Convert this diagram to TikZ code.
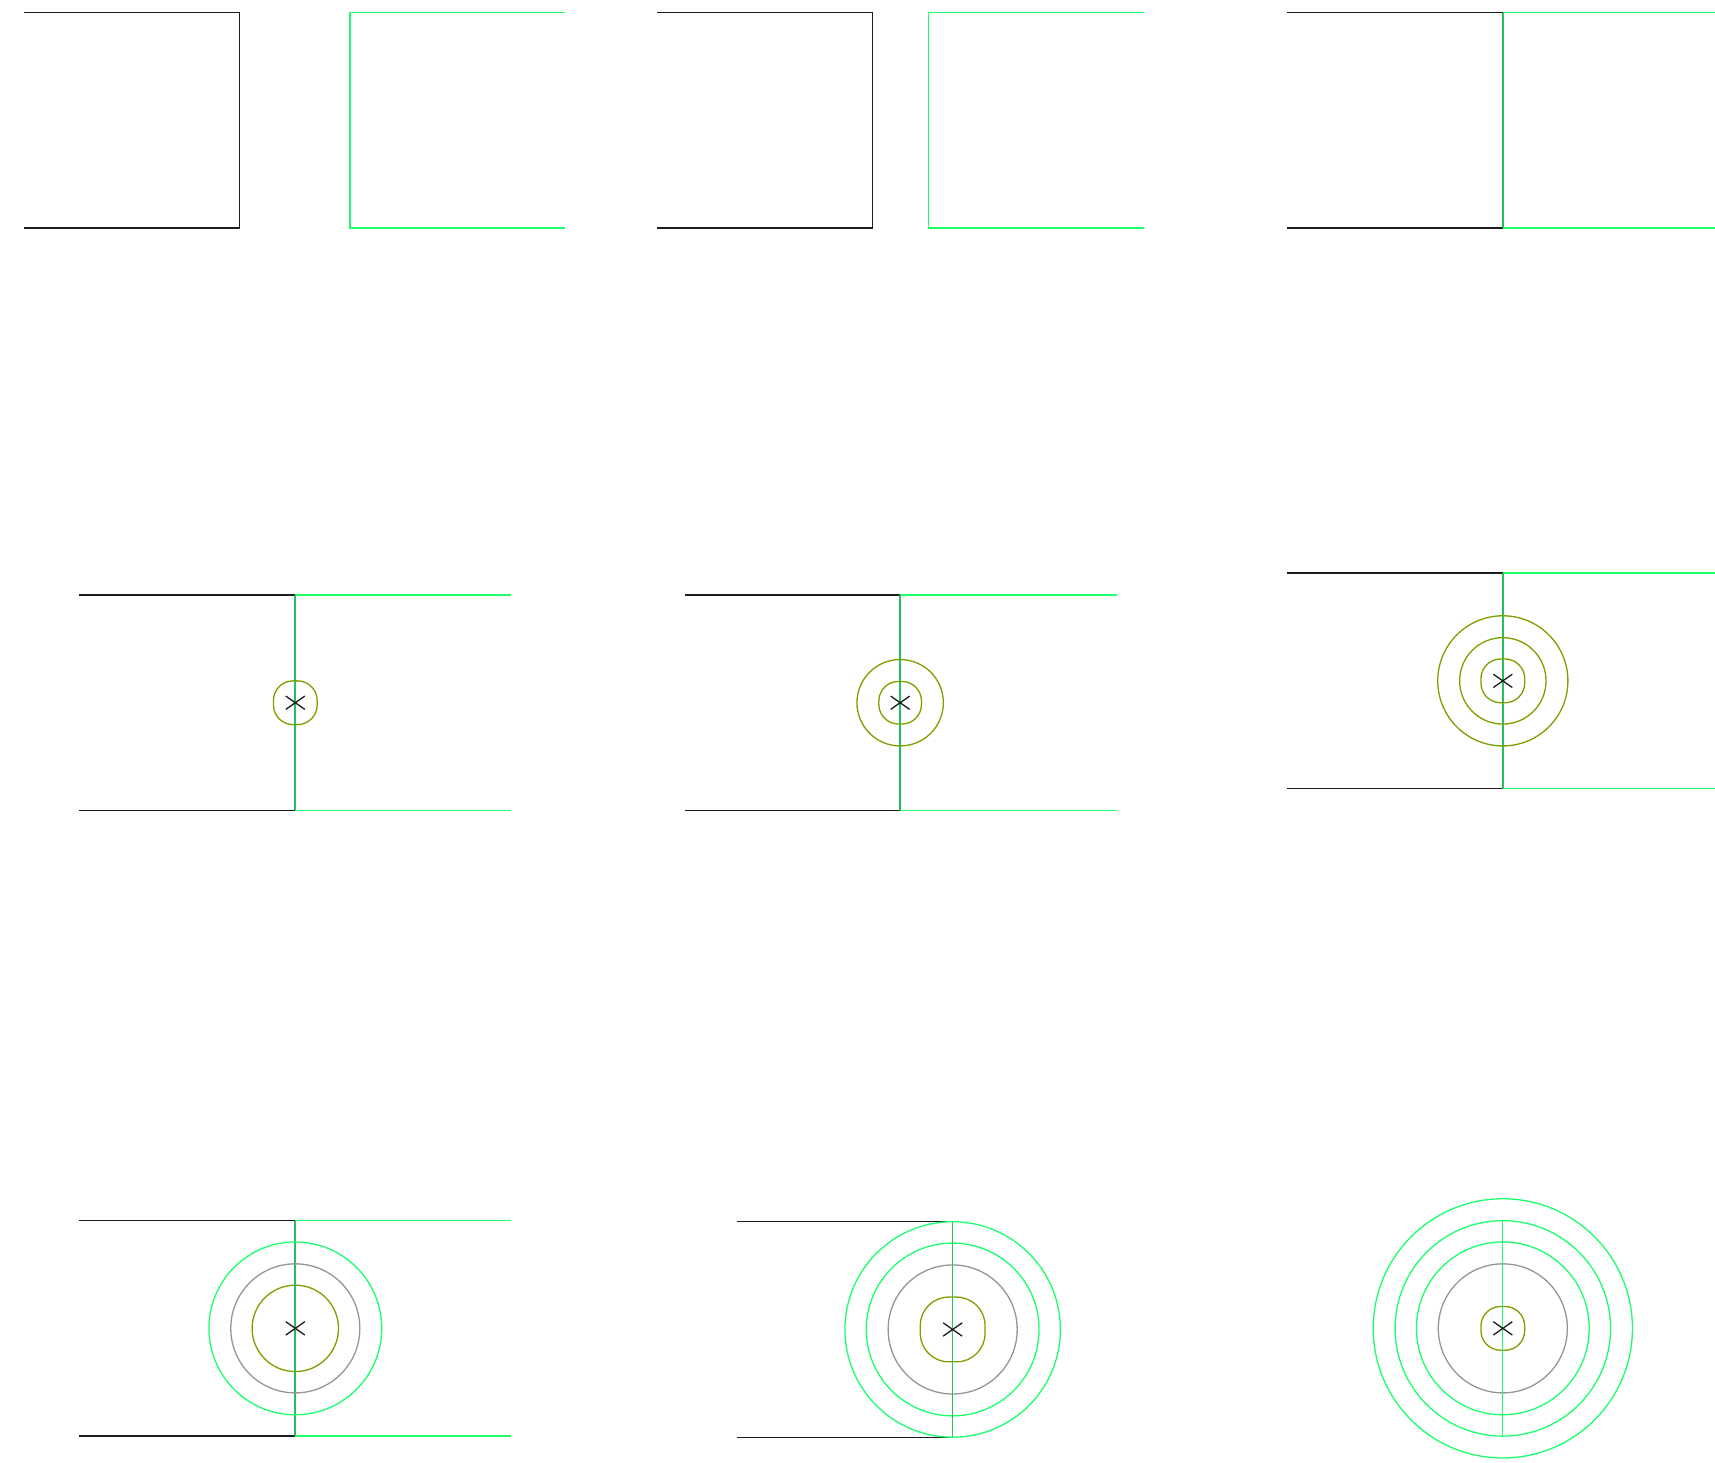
\documentclass[tikz,border=0pt]{standalone}
\definecolor{blk}{RGB}{30,30,30}
\definecolor{grn}{RGB}{30,255,110}
\definecolor{dgrn}{RGB}{40,190,95}
\definecolor{olv}{RGB}{125,160,0}
\definecolor{gry}{RGB}{150,150,150}
\tikzset{
  blkline/.style={draw=blk,line width=0.6pt},
  grnline/.style={draw=grn,line width=0.6pt},
  joinline/.style={draw=dgrn,line width=0.75pt},
  olvline/.style={draw=olv,line width=0.6pt},
  gryline/.style={draw=gry,line width=0.6pt},
}
% cross mark
\newcommand{\xmk}[2]{\draw[blkline] (#1-8.7,#2-6.1) -- (#1+8.7,#2+6.1) (#1-8.7,#2+6.1) -- (#1+8.7,#2-6.1);}
% squircle: centre x, centre y, half size, corner radius
\newcommand{\sqrc}[4]{\draw[olvline,rounded corners=#4] (#1-#3,#2-#3) rectangle (#1+#3,#2+#3);}
% joined pair: left end, joint x, right end, top y, bottom y
\newcommand{\joined}[5]{
  \draw[blkline] (#1,#4) -- (#2,#4) (#1,#5) -- (#2,#5);
  \draw[grnline] (#2,#4) -- (#3,#4) (#2,#5) -- (#3,#5);
  \draw[joinline] (#2,#4) -- (#2,#5);
}
\begin{document}
\begin{tikzpicture}[x=0.5pt,y=-0.5pt]
\path[use as bounding box] (0,0) rectangle (1568,1337);
% ---------- row 1 ----------
% panel A
\draw[blkline] (22,11.5) -| (219,208.5) -- (22,208.5);
\draw[grnline] (517,11.5) -| (320,208.5) -- (517,208.5);
% panel B
\draw[blkline] (601,11.5) -| (798,208.5) -- (601,208.5);
\draw[grnline] (1046,11.5) -| (849,208.5) -- (1046,208.5);
% panel C
\joined{1177}{1374}{1568}{11.5}{208.5}
% ---------- row 2 ----------
% panel D
\joined{72}{270}{467}{544}{741}
\sqrc{270}{642.5}{20}{9}
\xmk{270}{642.5}
% panel E
\joined{626}{823}{1021}{544}{741}
\draw[olvline] (823,642.5) circle (39.5);
\sqrc{823}{642.5}{19.5}{9}
\xmk{823}{642.5}
% panel F
\joined{1177}{1374}{1568}{524}{721}
\draw[olvline] (1374,622.5) circle (59.5);
\draw[olvline] (1374,622.5) circle (39.5);
\sqrc{1374}{622.5}{20}{9}
\xmk{1374}{622.5}
% ---------- row 3 ----------
% panel G
\joined{72}{270}{467}{1116}{1313}
\draw[grnline] (270,1214.5) circle (79);
\draw[gryline] (270,1214.5) circle (59);
\draw[olvline] (270,1214.5) circle (39.5);
\xmk{270}{1214.5}
% panel H
\draw[blkline] (674,1117) -- (871,1117) (674,1314) -- (871,1314);
\draw[grnline] (871,1215.5) circle (98.5);
\draw[grnline] (871,1215.5) circle (79);
\draw[gryline] (871,1215.5) circle (59);
\sqrc{871}{1215.5}{29.6}{13}
\draw[joinline] (871,1117) -- (871,1314);
\xmk{871}{1215.5}
% panel I
\draw[grnline] (1374,1214.5) circle (118.5);
\draw[grnline] (1374,1214.5) circle (98.5);
\draw[grnline] (1374,1214.5) circle (79);
\draw[gryline] (1374,1214.5) circle (59);
\sqrc{1374}{1214.5}{20}{9}
\draw[grnline] (1374,1115.5) -- (1374,1313.5);
\xmk{1374}{1214.5}
\end{tikzpicture}
\end{document}
